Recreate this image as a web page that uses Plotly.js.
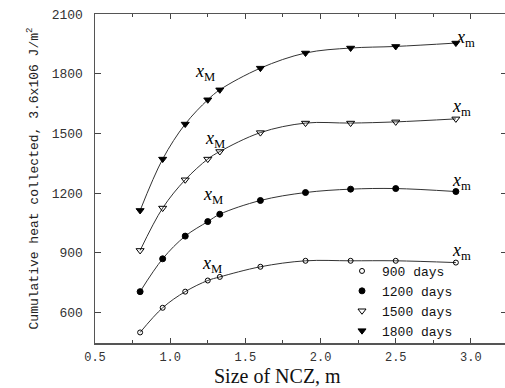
<!DOCTYPE html>
<html>
<head>
<meta charset="utf-8">
<script src="https://cdn.plot.ly/plotly-3.0.1.min.js"></script>
<style>
html,body{margin:0;padding:0;overflow:hidden;background:#fff;}
#chart{width:507px;height:388px;}
</style>
</head>
<body>
<div id="chart"></div>
<script>
// Data
var sizes = [0.8, 0.95, 1.1, 1.25, 1.33, 1.6, 1.9, 2.2, 2.5, 2.9];
var heat900  = [500, 624, 705, 761, 779, 830, 860, 860, 860, 851];
var heat1200 = [705, 870, 984, 1057, 1094, 1163, 1203, 1220, 1223, 1208];
var heat1500 = [912, 1125, 1267, 1371, 1409, 1504, 1552, 1552, 1558, 1573];
var heat1800 = [1113, 1371, 1547, 1669, 1719, 1828, 1904, 1929, 1937, 1954];
var seriesNames = ['900 days', '1200 days', '1500 days', '1800 days'];
var xTicks = [0.5, 1.0, 1.5, 2.0, 2.5, 3.0];
var xTickLabels = ['0.5', '1.0', '1.5', '2.0', '2.5', '3.0'];
var yTicks = [600, 900, 1200, 1500, 1800, 2100];

var series = [heat900, heat1200, heat1500, heat1800];
var symbols = ['circle-open', 'circle', 'triangle-down-open', 'triangle-down'];
var msizes = [5, 6, 7, 7];

var traces = [];
series.forEach(function (s) {
  traces.push({
    x: sizes, y: s, mode: 'lines', type: 'scatter', showlegend: false,
    line: {color: '#333', width: 1, shape: 'spline', smoothing: 1},
    hoverinfo: 'skip'
  });
});
series.forEach(function (s, i) {
  traces.push({
    x: sizes, y: s, mode: 'markers', type: 'scatter', name: seriesNames[i],
    marker: {symbol: symbols[i], size: msizes[i], color: '#000',
             line: {color: '#000', width: 1}}
  });
});

// x_M and x_m labels (paper-pixel positions of text)
var W = 507, H = 388, L = 95, T = 14, B = 45;
var pw = W - L, ph = H - T - B;
function px(x) { return (x - L) / pw; }
function py(y) { return (H - B - y) / ph; }
var labels = [
  [205, 72, 'M'], [215, 139, 'M'], [213, 195, 'M'], [212, 264, 'M'],
  [465, 38, 'm'], [461, 107, 'm'], [461, 181, 'm'], [461, 252, 'm']
];
var annotations = labels.map(function (l) {
  return {xref: 'paper', yref: 'paper', x: px(l[0]), y: py(l[1]),
    xanchor: 'center', yanchor: 'middle', showarrow: false,
    text: '<i>x</i><sub>' + l[2] + '</sub>',
    font: {family: 'Liberation Serif', size: 18, color: '#000'}};
});
annotations.push({xref: 'paper', yref: 'paper', x: px(277), y: py(376),
  xanchor: 'center', yanchor: 'middle', showarrow: false,
  text: 'Size of NCZ, m',
  font: {family: 'Liberation Serif', size: 20, color: '#111'}});

var layout = {
  width: W, height: H, autosize: false,
  margin: {l: L, r: 0, t: T, b: B, pad: 0},
  paper_bgcolor: '#fff', plot_bgcolor: '#fff',
  showlegend: true,
  legend: {x: px(342), y: py(256), xanchor: 'left', yanchor: 'top',
    bgcolor: 'rgba(0,0,0,0)', borderwidth: 0,
    font: {family: 'Liberation Mono', size: 13, color: '#111'},
    itemwidth: 30, tracegroupgap: 0},
  xaxis: {
    range: [0.5, 3.24], tickvals: xTicks, ticktext: xTickLabels,
    ticks: 'inside', ticklen: 5, tickwidth: 1, tickcolor: '#444',
    showline: true, linecolor: '#555', linewidth: 1.5, mirror: 'ticks',
    showgrid: false, zeroline: false,
    tickfont: {family: 'Liberation Mono', size: 12, color: '#333'},
    ticklabelstandoff: 2,
    minor: {dtick: 0.25, tick0: 0.5, ticks: 'inside', ticklen: 3, tickcolor: '#444', showgrid: false}
  },
  yaxis: {
    range: [447, 2100], tickvals: yTicks,
    ticks: 'inside', ticklen: 6, tickwidth: 1, tickcolor: '#444',
    showline: true, linecolor: '#555', linewidth: 1.5, mirror: 'ticks',
    showgrid: false, zeroline: false,
    tickfont: {family: 'Liberation Mono', size: 13, color: '#333'},
    ticklabelstandoff: 8,
    title: {text: 'Cumulative heat collected, 3.6x106 J/m<sup>2</sup>',
      font: {family: 'Liberation Mono', size: 13, color: '#222'}, standoff: 10}
  },
  annotations: annotations
};

Plotly.newPlot('chart', traces, layout, {displayModeBar: false, staticPlot: true});
</script>
</body>
</html>
